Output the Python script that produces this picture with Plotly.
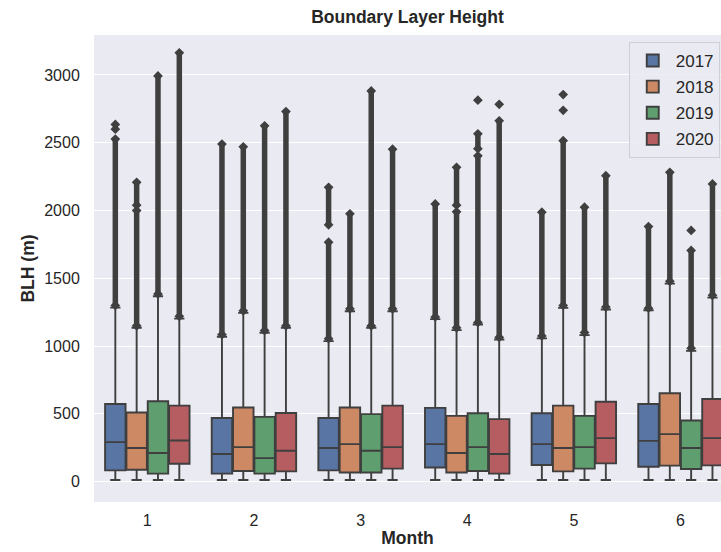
import plotly.graph_objects as go

months = ["1", "2", "3", "4", "5", "6"]
years = ["2017", "2018", "2019", "2020"]
colors = ["#5875A4", "#CC8963", "#5F9E6E", "#B55D60"]

# box statistics per year (rows) and month (columns)
q1 = [
    [83, 59, 83, 105, 123, 110],
    [88, 79, 68, 68, 76, 118],
    [59, 59, 68, 79, 96, 93],
    [132, 76, 96, 59, 135, 120],
]
median = [
    [292, 204, 248, 277, 277, 301],
    [248, 255, 277, 211, 248, 351],
    [211, 174, 228, 255, 255, 248],
    [304, 228, 255, 204, 321, 321],
]
q3 = [
    [573, 470, 470, 544, 505, 573],
    [510, 547, 547, 485, 561, 652],
    [593, 478, 498, 505, 485, 451],
    [561, 507, 561, 461, 590, 610],
]
lower_whisker = [
    [12, 12, 12, 12, 12, 12],
    [12, 12, 12, 12, 12, 12],
    [12, 12, 12, 12, 12, 12],
    [12, 12, 12, 12, 12, 12],
]
upper_whisker = [
    [1284, 1069, 1037, 1199, 1057, 1265],
    [1135, 1245, 1257, 1118, 1282, 1461],
    [1368, 1098, 1135, 1159, 1081, 965],
    [1203, 1135, 1257, 1049, 1270, 1358],
]

# dense runs of outliers: (start, end) per year / month
outlier_runs = [
    [[(1300, 2527)], [(1085, 2490)], [(1055, 1767), (1895, 2171)], [(1215, 2049)], [(1075, 1988)], [(1280, 1882)]],
    [[(1150, 2000), (2040, 2208)], [(1260, 2470)], [(1275, 1976)], [(1135, 1991), (2040, 2319)], [(1300, 2515)], [(1478, 2282)]],
    [[(1385, 2993)], [(1115, 2625)], [(1150, 2882)], [(1175, 2404), (2456, 2566)], [(1100, 2025)], [(985, 1706)]],
    [[(1220, 3164)], [(1150, 2730)], [(1275, 2453)], [(1065, 2662)], [(1288, 2257)], [(1375, 2196)]],
]
# isolated outliers
outlier_points = [
    [[2600, 2635], [], [], [], [], []],
    [[], [], [], [], [2739, 2856], []],
    [[], [], [], [2814], [], [1853]],
    [[], [], [], [2784], [], []],
]

y_ticks = [0, 500, 1000, 1500, 2000, 2500, 3000]

edge = "#3F3F3F"
fig = go.Figure()

for k, yr in enumerate(years):
    fig.add_trace(go.Box(
        x=months, q1=q1[k], median=median[k], q3=q3[k],
        lowerfence=lower_whisker[k], upperfence=upper_whisker[k],
        name=yr, offsetgroup=yr, legendgroup=yr,
        fillcolor=colors[k], line=dict(color=edge, width=1.9),
        marker=dict(color=colors[k]),
        boxpoints=False, whiskerwidth=0.5, hoverinfo="skip",
    ))

for k, yr in enumerate(years):
    xs, ys = [], []
    for i, m in enumerate(months):
        for lo, hi in outlier_runs[k][i]:
            xs += [m, m, None]
            ys += [lo, hi, None]
        for v in outlier_points[k][i]:
            xs += [m, None]
            ys += [v, None]
    fig.add_trace(go.Scatter(
        x=xs, y=ys, mode="lines+markers", offsetgroup=yr, orientation="v",
        line=dict(color=edge, width=5.5),
        marker=dict(symbol="diamond", size=7.5, color=edge),
        showlegend=False, legendgroup=yr, hoverinfo="skip", connectgaps=False,
    ))

font_family = "Liberation Sans, Arial, sans-serif"
fig.update_layout(
    width=721, height=552,
    margin=dict(l=94, r=0, t=35, b=50),
    paper_bgcolor="white", plot_bgcolor="#EAEAF2",
    boxmode="group", boxgap=0.2, boxgroupgap=0.04,
    scattermode="group", scattergap=0.2,
    font=dict(family=font_family, color="#262626", size=16),
    title=dict(text="<b>Boundary Layer Height</b>", x=0.5, xref="paper", xanchor="center",
               y=1, yref="container", yanchor="top", pad=dict(t=11),
               font=dict(size=17.5, color="#262626")),
    legend=dict(x=0.998, y=0.985, xanchor="right", yanchor="top",
                bgcolor="rgba(234,234,242,0.85)", bordercolor="#CFCFD6", borderwidth=1,
                font=dict(size=17, color="#262626"), tracegroupgap=1, itemwidth=36),
    xaxis=dict(type="category", categoryorder="array", categoryarray=months,
               range=[-0.5, 5.38], showgrid=False, zeroline=False, showline=False,
               ticks="outside", ticklen=4, tickcolor="rgba(0,0,0,0)",
               tickfont=dict(size=16, color="#262626"),
               title=dict(text="<b>Month</b>", standoff=3, font=dict(size=17.5, color="#262626"))),
    yaxis=dict(range=[-150, 3295], tickvals=y_ticks, showgrid=True, gridcolor="white",
               gridwidth=1.2, zeroline=False, showline=False,
               ticks="outside", ticklen=10, tickcolor="rgba(0,0,0,0)",
               tickfont=dict(size=16, color="#262626"),
               title=dict(text="<b>BLH (m)</b>", standoff=5, font=dict(size=17.5, color="#262626"))),
)

fig.write_html("out.html", config={"displayModeBar": False},
               post_script="document.body.style.margin='0';")
